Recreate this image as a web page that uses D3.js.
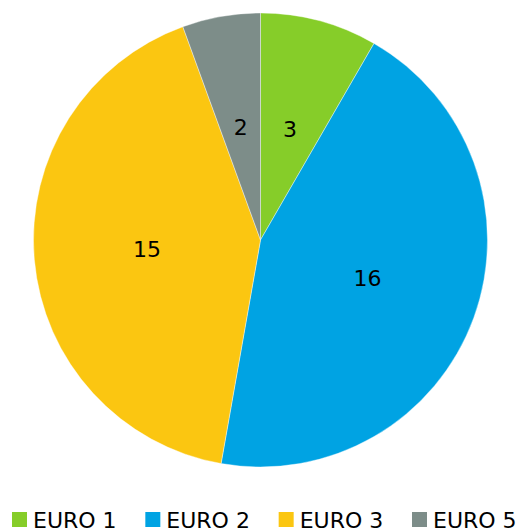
<!DOCTYPE html>
<html><head><meta charset="utf-8">
<script src="https://cdn.jsdelivr.net/npm/d3@7"></script>
<style>html,body{margin:0;padding:0;background:#fff;}</style>
</head><body>
<svg id="c" width="520" height="532"></svg>
<script>
const categories = ["EURO 1", "EURO 2", "EURO 3", "EURO 5"];
const values = [3, 16, 15, 2];
const colors = ["#86CD29", "#00A3E3", "#FBC611", "#7D8D89"];

const svg = d3.select("#c");
const cx = 260.5, cy = 240, R = 227;
const font = "'DejaVu Sans', sans-serif";

const pie = d3.pie().sort(null).value(d => d.v);
const data = categories.map((c, i) => ({c, v: values[i], col: colors[i]}));
const arcs = pie(data);
const arc = d3.arc().innerRadius(0).outerRadius(R);
const labelArc = d3.arc().innerRadius(114).outerRadius(114);

const g = svg.append("g").attr("transform", `translate(${cx},${cy})`);
g.selectAll("path").data(arcs).join("path")
  .attr("d", arc).attr("fill", d => d.data.col)
  .attr("stroke", "#fff").attr("stroke-width", 0.4);
g.selectAll("text").data(arcs).join("text")
  .attr("x", d => labelArc.centroid(d)[0])
  .attr("y", d => labelArc.centroid(d)[1])
  .attr("text-anchor", "middle").attr("dominant-baseline", "central")
  .attr("font-family", font).attr("font-size", 22).attr("fill", "#000")
  .text(d => d.data.v);

const legX = d3.scalePoint().domain(categories).range([12, 412]);
const leg = svg.append("g").selectAll("g").data(data).join("g")
  .attr("transform", d => `translate(${legX(d.c)},512)`);
leg.append("rect").attr("width", 15).attr("height", 15).attr("fill", d => d.col);
leg.append("text").attr("x", 21).attr("y", 15.5)
  .attr("font-family", font).attr("font-size", 22).attr("fill", "#000")
  .text(d => d.c);
</script>
</body></html>
